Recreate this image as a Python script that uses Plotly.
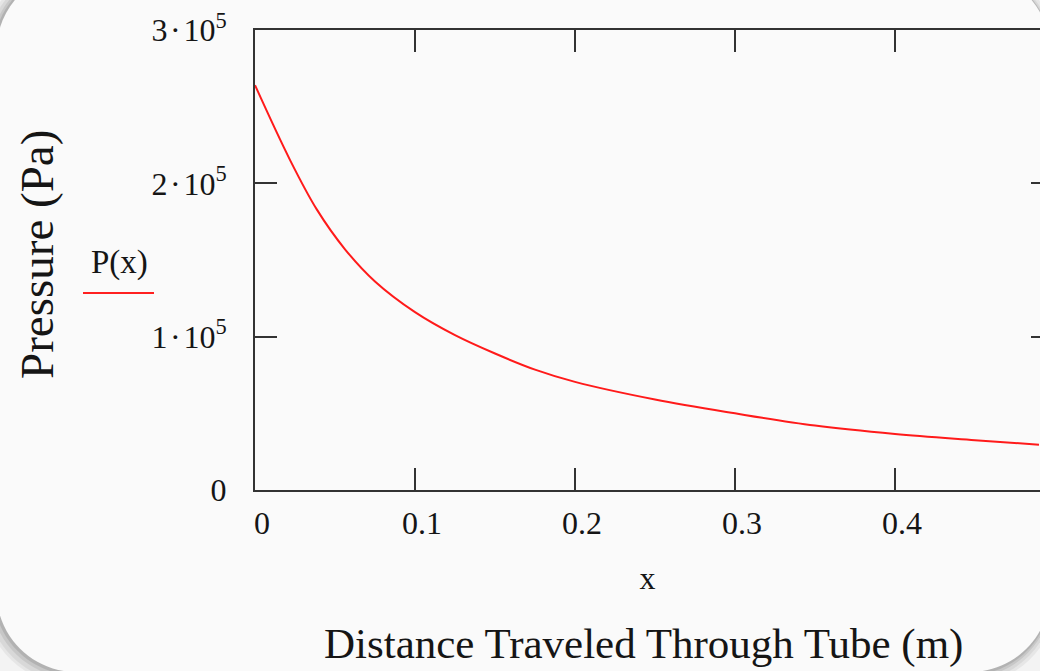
import plotly.graph_objects as go

# ---- data ----
x_m = [0, 0.022, 0.0386, 0.05625, 0.075, 0.1, 0.125, 0.15, 0.175, 0.2,
       0.25, 0.3, 0.35, 0.4, 0.45, 0.49]
p_pa = [264000, 215000, 183000, 157000, 136000, 116000, 101000, 89000, 78500, 70500,
        59000, 50000, 42000, 36500, 32500, 29500]
x_ticks = [0, 0.1, 0.2, 0.3, 0.4]
x_ticktext = ["0", "0.1", "0.2", "0.3", "0.4"]
y_ticks = [0, 100000, 200000, 300000]
y_ticktext = ["0", "1\u200a·\u200a10<sup>5</sup>", "2\u200a·\u200a10<sup>5</sup>", "3\u200a·\u200a10<sup>5</sup>"]

W, H = 1040, 671
ML, MR, MT, MB = 255, 0, 30, 181
PW, PH = W - ML - MR, H - MT - MB

FONT = "Liberation Serif, Times New Roman, serif"
AX = "#333333"
TXT = "#151515"


def px(xp):
    return (xp - ML) / PW


def py(yp):
    return (H - MB - yp) / PH


def rrect(x0, y0, x1, y1, r):
    k = 0.5523 * r
    pts = []
    pts.append(f"M{px(x0 + r)},{py(y0)}")
    pts.append(f"L{px(x1 - r)},{py(y0)}")
    pts.append(f"C{px(x1 - r + k)},{py(y0)} {px(x1)},{py(y0 + r - k)} {px(x1)},{py(y0 + r)}")
    pts.append(f"L{px(x1)},{py(y1 - r)}")
    pts.append(f"C{px(x1)},{py(y1 - r + k)} {px(x1 - r + k)},{py(y1)} {px(x1 - r)},{py(y1)}")
    pts.append(f"L{px(x0 + r)},{py(y1)}")
    pts.append(f"C{px(x0 + r - k)},{py(y1)} {px(x0)},{py(y1 - r + k)} {px(x0)},{py(y1 - r)}")
    pts.append(f"L{px(x0)},{py(y0 + r)}")
    pts.append(f"C{px(x0)},{py(y0 + r - k)} {px(x0 + r - k)},{py(y0)} {px(x0 + r)},{py(y0)}")
    return " ".join(pts) + " Z"


card = (-3.5, -29, 1050, 672, 80)
shapes = []
for grow, dx, dy, op in [(10, -3, 3, 0.05), (7, -3, 3, 0.06), (4, -2, 2, 0.08), (2, -1, 1, 0.10)]:
    x0, y0, x1, y1, r = card
    shapes.append(dict(type="path", xref="paper", yref="paper", layer="below",
                       path=rrect(x0 - grow + dx, y0 - grow + dy, x1 + grow + dx, y1 + grow + dy, r + grow),
                       fillcolor=f"rgba(0,0,0,{op})", line=dict(width=0)))
shapes.append(dict(type="path", xref="paper", yref="paper", layer="below",
                   path=rrect(*card), fillcolor="#fafafa", line=dict(width=0)))
# legend-style red sample line under "P(x)"
shapes.append(dict(type="line", xref="paper", yref="paper",
                   x0=px(83), x1=px(154), y0=py(293), y1=py(293),
                   line=dict(color="#ff2020", width=2)))

fig = go.Figure()
fig.add_trace(go.Scatter(x=x_m, y=p_pa, mode="lines", line=dict(color="#ff1a1a", width=2, shape="spline"),
                         showlegend=False, hoverinfo="skip"))
fig.add_trace(go.Scatter(x=x_m, y=p_pa, mode="lines", yaxis="y2", line=dict(color="rgba(0,0,0,0)", width=0),
                         showlegend=False, hoverinfo="skip"))

fig.update_layout(
    width=W, height=H, autosize=False,
    margin=dict(l=ML, r=MR, t=MT, b=MB, pad=0),
    paper_bgcolor="#f3f3f3", plot_bgcolor="rgba(0,0,0,0)",
    font=dict(family=FONT, color=TXT),
    shapes=shapes,
    xaxis=dict(range=[0, 0.490625], tickvals=x_ticks, ticktext=x_ticktext,
               ticks="inside", ticklen=22, tickwidth=2, tickcolor=AX,
               showline=True, linecolor=AX, linewidth=2, mirror="ticks",
               showgrid=False, zeroline=False,
               tickfont=dict(size=32, family=FONT, color=TXT),
               ticklabelstandoff=4, ticklabelshift=7,
               title=dict(text="x", font=dict(size=32, family=FONT, color=TXT), standoff=26)),
    yaxis=dict(range=[0, 300000], tickvals=y_ticks, ticktext=y_ticktext,
               ticks="inside", ticklen=22, tickwidth=2, tickcolor=AX,
               showline=True, linecolor=AX, linewidth=2,
               showgrid=False, zeroline=False,
               tickfont=dict(size=32, family=FONT, color=TXT),
               ticklabelstandoff=20),
    yaxis2=dict(overlaying="y", side="right", matches="y", range=[0, 300000],
                tickvals=[100000, 200000], ticks="inside", ticklen=9, tickwidth=2, tickcolor=AX,
                showticklabels=False, showline=False, showgrid=False, zeroline=False),
    annotations=[
        dict(text="Pressure (Pa)", xref="paper", yref="paper", x=px(37), y=py(255),
             textangle=-90, showarrow=False, xanchor="center", yanchor="middle",
             font=dict(size=47, family=FONT, color=TXT)),
        dict(text="P(x)", xref="paper", yref="paper", x=px(119), y=py(262),
             showarrow=False, xanchor="center", yanchor="middle",
             font=dict(size=33, family=FONT, color=TXT)),
        dict(text="Distance Traveled Through Tube (m)", xref="paper", yref="paper",
             x=px(643), y=py(644), showarrow=False, xanchor="center", yanchor="middle",
             font=dict(size=43, family=FONT, color=TXT)),
    ],
)

fig.write_html("out.html", config={"displayModeBar": False},
               post_script="document.body.style.margin='0';document.body.style.overflow='hidden';"
                           "document.documentElement.style.overflow='hidden';")
